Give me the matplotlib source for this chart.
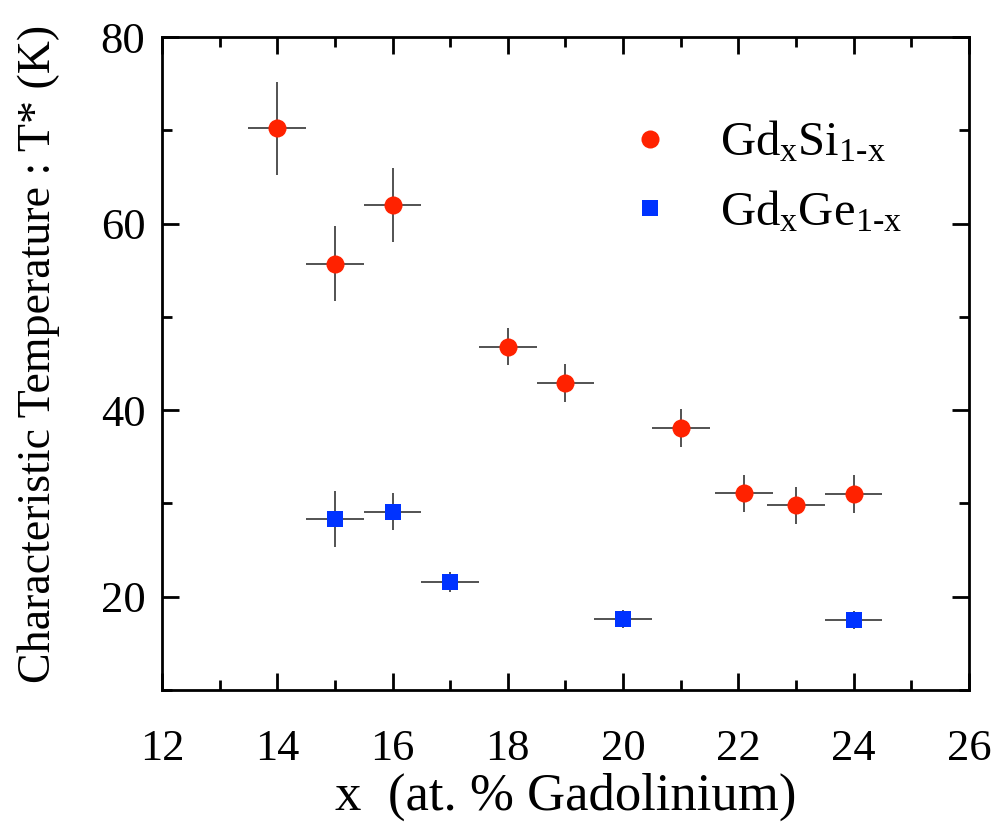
import matplotlib
matplotlib.use("Agg")
import matplotlib.pyplot as plt
from matplotlib.lines import Line2D

plt.rcParams['font.family'] = ['Liberation Serif', 'DejaVu Serif']
plt.rcParams['mathtext.fontset'] = 'custom'
plt.rcParams['mathtext.rm'] = 'Liberation Serif'
plt.rcParams['mathtext.it'] = 'Liberation Serif:italic'

# GdxSi1-x
si_x = [14, 15, 16, 18, 19, 21, 22.1, 23, 24]
si_y = [70.2, 55.7, 62.0, 46.8, 42.9, 38.1, 31.1, 29.8, 31.0]
si_yerr = [5.0, 4.0, 4.0, 2.0, 2.0, 2.0, 2.0, 2.0, 2.0]
si_xerr = [0.5] * 9

# GdxGe1-x
ge_x = [15, 16, 17, 20, 24]
ge_y = [28.3, 29.1, 21.6, 17.6, 17.5]
ge_yerr = [3.0, 2.0, 1.05, 1.0, 1.0]
ge_xerr = [0.5] * 5

red = '#ff2200'
blue = '#0033ff'

fig = plt.figure(figsize=(10.02, 8.30), dpi=100)
ax = fig.add_axes([0.1617, 0.1687, 0.8053, 0.7867])

ebkw = dict(ecolor='#444444', elinewidth=1.3, capsize=7, capthick=1.3, linestyle='none')
ax.errorbar(si_x, si_y, yerr=si_yerr, xerr=si_xerr, fmt='o', color=red,
            markersize=13, markeredgewidth=0, **ebkw)
ax.errorbar(ge_x, ge_y, yerr=ge_yerr, xerr=ge_xerr, fmt='s', color=blue,
            markersize=11.5, markeredgewidth=0, **ebkw)

ax.set_xlim(12, 26)
ax.set_ylim(10, 80)
ax.set_xticks(range(12, 27, 2))
ax.set_xticks(range(13, 26, 2), minor=True)
ax.set_yticks([20, 40, 60, 80])
ax.set_yticks([10, 30, 50, 70], minor=True)
ax.tick_params(which='both', direction='in', top=True, right=True, width=2, labelsize=32)
ax.tick_params(axis='y', pad=12)
ax.tick_params(axis='x', pad=28)
ax.tick_params(which='major', length=12)
ax.tick_params(which='minor', length=7)
for s in ax.spines.values():
    s.set_linewidth(2)

ax.set_xlabel('x  (at. % Gadolinium)', fontsize=38)
ax.xaxis.set_label_coords(0.5, -0.127)
ax.set_ylabel('Characteristic Temperature : T* (K)', fontsize=33)
ax.yaxis.set_label_coords(-0.126, 0.515)

handles = [Line2D([], [], marker='o', color=red, linestyle='none', markersize=13, markeredgewidth=0),
           Line2D([], [], marker='s', color=blue, linestyle='none', markersize=11.5, markeredgewidth=0)]
labels = [r'Gd$_{\mathrm{x}}$Si$_{\mathrm{1\text{-}x}}$', r'Gd$_{\mathrm{x}}$Ge$_{\mathrm{1\text{-}x}}$']
ax.legend(handles, labels, loc='upper left', bbox_to_anchor=(0.52, 0.94), frameon=False, fontsize=35,
          handletextpad=0.95, labelspacing=0.5, numpoints=1, handlelength=1.0)

fig.savefig('out.png', dpi=100)
